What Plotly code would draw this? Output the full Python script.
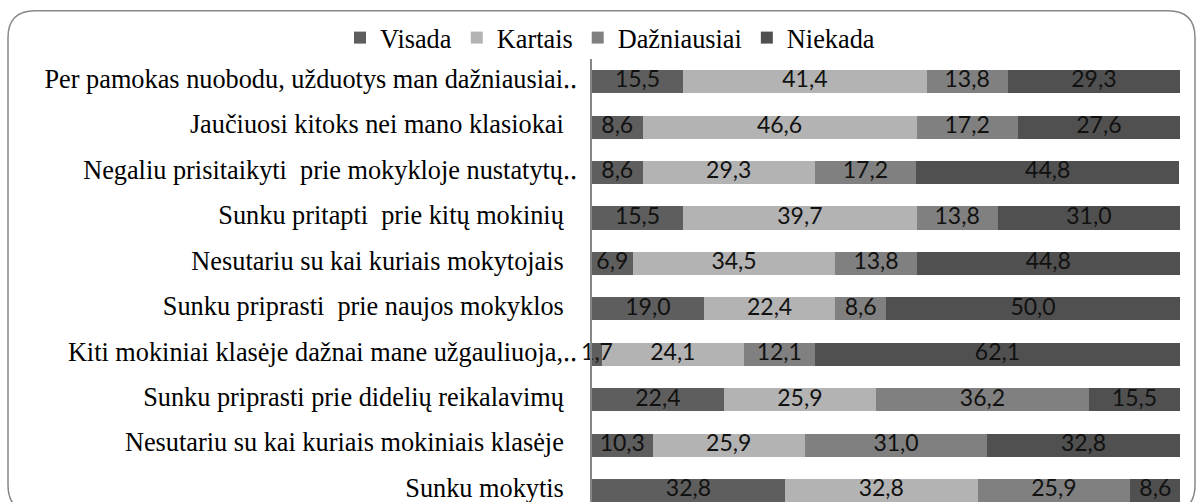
import plotly.graph_objects as go

NB = "\u00a0"
categories = [
    "Per pamokas nuobodu, užduotys man dažniausiai‥",
    "Jaučiuosi kitoks nei mano klasiokai" + NB * 2,
    "Negaliu prisitaikyti" + NB + " prie mokykloje nustatytų‥",
    "Sunku pritapti" + NB + " prie kitų mokinių" + NB * 2,
    "Nesutariu su kai kuriais mokytojais" + NB * 2,
    "Sunku priprasti" + NB + " prie naujos mokyklos" + NB * 2,
    "Kiti mokiniai klasėje dažnai mane užgauliuoja,‥",
    "Sunku priprasti prie didelių reikalavimų" + NB * 2,
    "Nesutariu su kai kuriais mokiniais klasėje" + NB * 2,
    "Sunku mokytis" + NB * 2,
]
series_names = ["Visada", "Kartais", "Dažniausiai", "Niekada"]
visada = [15.5, 8.6, 8.6, 15.5, 6.9, 19.0, 1.7, 22.4, 10.3, 32.8]
kartais = [41.4, 46.6, 29.3, 39.7, 34.5, 22.4, 24.1, 25.9, 25.9, 32.8]
dazniausiai = [13.8, 17.2, 17.2, 13.8, 13.8, 8.6, 12.1, 36.2, 31.0, 25.9]
niekada = [29.3, 27.6, 44.8, 31.0, 44.8, 50.0, 62.1, 15.5, 32.8, 8.6]
series_values = [visada, kartais, dazniausiai, niekada]
colors = ["#5e5e5e", "#b3b3b3", "#808080", "#505050"]

W, H = 1196, 502
L, R, T, B = 592, 16, 59.3, 0
pw, ph = W - L - R, H - T - B

fig = go.Figure()
base = [0.0] * len(categories)
for name, vals, col in zip(series_names, series_values, colors):
    fig.add_trace(go.Bar(
        y=categories, x=vals, name=name, orientation="h",
        marker=dict(color=col, line=dict(width=0)),
    ))
    mids = [b + v / 2 for b, v in zip(base, vals)]
    fig.add_trace(go.Scatter(
        y=categories, x=mids, mode="text",
        text=[f"{v:.1f}".replace(".", ",") for v in vals],
        textposition="middle center",
        textfont=dict(family="Lato", size=23, color="#111111"),
        showlegend=False, hoverinfo="skip", cliponaxis=False,
    ))
    base = [b + v for b, v in zip(base, vals)]


def px(x):
    return (x - L) / pw


def py(y):
    return (H - B - y) / ph


x0, x1, y0, y1, r = 8, 1195, 11, 512, 27
path = (
    f"M{px(x0)},{py(y0 + r)} Q{px(x0)},{py(y0)} {px(x0 + r)},{py(y0)} "
    f"L{px(x1 - r)},{py(y0)} Q{px(x1)},{py(y0)} {px(x1)},{py(y0 + r)} "
    f"L{px(x1)},{py(y1 - r)} Q{px(x1)},{py(y1)} {px(x1 - r)},{py(y1)} "
    f"L{px(x0 + r)},{py(y1)} Q{px(x0)},{py(y1)} {px(x0)},{py(y1 - r)} Z"
)

fig.update_layout(
    width=W, height=H,
    margin=dict(l=L, r=R, t=T, b=B, pad=0, autoexpand=False),
    barmode="stack", bargap=0.49,
    paper_bgcolor="white", plot_bgcolor="white",
    font=dict(family="Liberation Serif", size=26.3, color="#000000"),
    showlegend=True,
    legend=dict(
        orientation="h", traceorder="normal",
        xref="container", yref="container",
        x=610 / W, xanchor="center", y=(H - 38) / H, yanchor="middle",
        font=dict(family="Liberation Serif", size=26.3, color="#000000"),
        itemwidth=30, bgcolor="rgba(0,0,0,0)",
    ),
    xaxis=dict(range=[0, 100], visible=False, fixedrange=True),
    yaxis=dict(
        categoryorder="array", categoryarray=categories,
        range=[9.25, -0.5], showline=True, linecolor="#868686", linewidth=1.5,
        ticks="", showgrid=False, zeroline=False, fixedrange=True,
        ticklabelstandoff=8, ticklabelshift=3, automargin=False,
        tickfont=dict(family="Liberation Serif", size=26.3, color="#000000"),
    ),
    shapes=[dict(type="path", xref="paper", yref="paper", path=path,
                 line=dict(color="#888888", width=1.5), layer="below")],
)

fig.write_html(
    "out.html",
    config={"displayModeBar": False},
    post_script="document.body.style.margin='0';document.body.style.overflow='hidden';",
)
